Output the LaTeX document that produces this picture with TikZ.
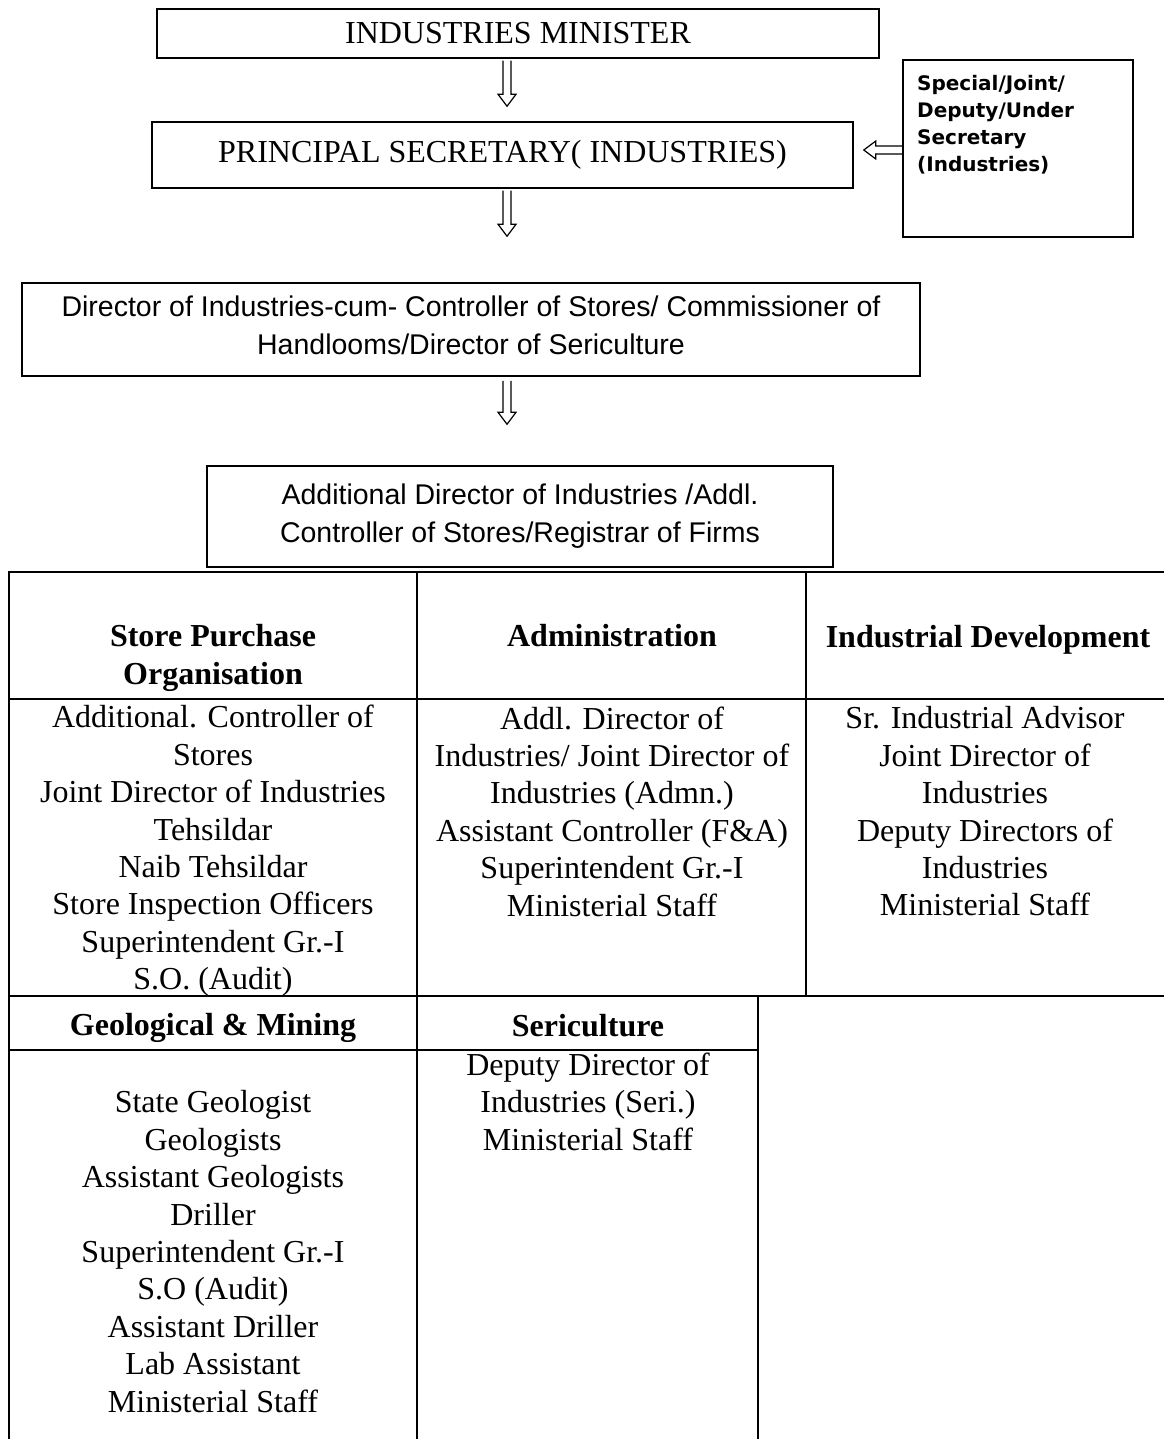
\documentclass[tikz,border=0pt]{standalone}
\usepackage{fontspec}
\setmainfont{Liberation Serif}
\newfontfamily\arialf{Liberation Sans}
\newfontfamily\tahf{DejaVu Sans}
\usetikzlibrary{calc}
\begin{document}
\begin{tikzpicture}[x=1pt,y=-1pt,
  box/.style={draw, line width=1.5pt, inner sep=0pt},
  tline/.style={line width=2.2pt},
  tnr/.style={font=\fontsize{32}{37.4}\selectfont, align=center, inner sep=0pt},
  tnrb/.style={font=\fontsize{32}{37.4}\selectfont\bfseries, align=center, inner sep=0pt},
  ari/.style={font=\arialf\fontsize{28.5}{38}\selectfont, align=center, inner sep=0pt},
  hdown/.style={line width=1.2pt, to path={let \p1=(\tikztostart), \p2=(\tikztotarget) in
     (\x1-4pt,\y1) -- (\x1-4pt,\y2+12pt) -- (\x1-9pt,\y2+12pt) -- (\x1,\y2) -- (\x1+9pt,\y2+12pt) -- (\x1+4pt,\y2+12pt) -- (\x1+4pt,\y1)}},
  hleft/.style={line width=1.2pt, to path={let \p1=(\tikztostart), \p2=(\tikztotarget) in
     (\x1,\y1+4pt) -- (\x2+12pt,\y1+4pt) -- (\x2+12pt,\y1+9pt) -- (\x2,\y1) -- (\x2+12pt,\y1-9pt) -- (\x2+12pt,\y1-4pt) -- (\x1,\y1-4pt)}}
]
\fill[white] (0,0) rectangle (1163,1439);
\useasboundingbox (0,0) rectangle (1163,1439);

% top boxes
\node[box, tnr, minimum width=722, minimum height=49] (min) at (518,33.5) {INDUSTRIES MINISTER};
\node[box, tnr, minimum width=701, minimum height=66] (ps) at (502.5,155) {PRINCIPAL SECRETARY( INDUSTRIES)};
\node[box, minimum width=230, minimum height=177] (sec) at (1018,148.5) {};
\node[anchor=west, align=left, inner sep=0pt, font=\tahf\bfseries\fontsize{20}{27}\selectfont] (sect) at (917,124.5) {Special/Joint/\\Deputy/Under\\Secretary\\(Industries)};
\node[box, minimum width=898, minimum height=93] (dir) at (471,329.5) {};
\node[ari] (dirt) at (471,325.5) {Director of Industries-cum- Controller of Stores/ Commissioner of\\Handlooms/Director of Sericulture};
\node[box, ari, minimum width=626, minimum height=101] (add) at (520,516.5) {Additional Director of Industries /Addl.\\Controller of Stores/Registrar of Firms};

% arrows
\coordinate (ax) at (507,0);
\coordinate (ay) at (0,150);
\draw[hdown] ([yshift=-2pt]ax |- min.south) to ([yshift=15pt]ax |- ps.north);
\draw[hdown] ([yshift=-2pt]ax |- ps.south) to ([yshift=46pt]ax |- dir.north);
\draw[hdown] ([yshift=-4pt]ax |- dir.south) to ([yshift=41pt]ax |- add.north);
\draw[hleft] (sec.west |- ay) to ([xshift=10pt]ps.east |- ay);

% table grid
\draw[tline] (9,1439) -- (9,572) -- (1170,572);
\draw[tline] (9,699) -- (1170,699);
\draw[tline] (9,996) -- (1170,996);
\draw[tline] (9,1050) -- (758,1050);
\draw[tline] (417,572) -- (417,1439);
\draw[tline] (806,572) -- (806,996);
\draw[tline] (758,996) -- (758,1439);

% table headers
\node[tnrb] (h1) at (213,658) {Store Purchase\\Organisation};
\node[tnrb] (h2) at (612,636) {Administration};
\node[tnrb] (h3) at (988,640) {Industrial Development};
\node[tnrb] (h4) at (213,1028) {Geological \& Mining};
\node[tnrb] (h5) at (588,1026) {Sericulture};

% table bodies
\node[tnr] (b1) at (213,851) {Additional. Controller of\\Stores\\Joint Director of Industries\\Tehsildar\\Naib Tehsildar\\Store Inspection Officers\\Superintendent Gr.-I\\S.O. (Audit)};
\node[tnr] (b2) at (612,811.5) {Addl. Director of\\Industries/ Joint Director of\\Industries (Admn.)\\Assistant Controller (F\&A)\\Superintendent Gr.-I\\Ministerial Staff};
\node[tnr] (b3) at (985,811.5) {Sr. Industrial Advisor\\Joint Director of\\Industries\\Deputy Directors of\\Industries\\Ministerial Staff};
\node[tnr] (b4) at (213,1251.5) {State Geologist\\Geologists\\Assistant Geologists\\Driller\\Superintendent Gr.-I\\S.O (Audit)\\Assistant Driller\\Lab Assistant\\Ministerial Staff};
\node[tnr] (b5) at (588,1101.5) {Deputy Director of\\Industries (Seri.)\\Ministerial Staff};
\end{tikzpicture}
\end{document}
